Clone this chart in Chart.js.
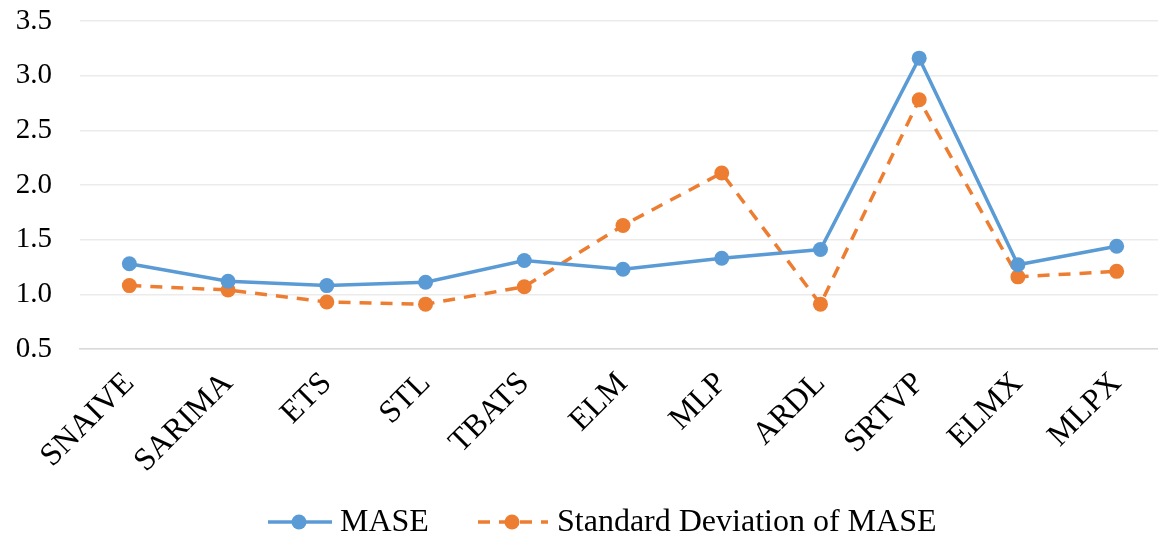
<!DOCTYPE html>
<html>
<head>
<meta charset="utf-8">
<script src="https://cdn.jsdelivr.net/npm/chart.js@4.4.1/dist/chart.umd.min.js"></script>
<style>
  html, body { margin: 0; padding: 0; background: #fff; }
  #wrap { width: 1158px; height: 546px; }
</style>
</head>
<body>
<div id="wrap"><canvas id="chart" width="1158" height="546"></canvas></div>
<script>
// Données
const models = ['SNAIVE', 'SARIMA', 'ETS', 'STL', 'TBATS', 'ELM', 'MLP', 'ARDL', 'SRTVP', 'ELMX', 'MLPX'];
const maseValues = [1.28, 1.12, 1.08, 1.11, 1.31, 1.23, 1.33, 1.41, 3.16, 1.27, 1.44];
const sdValues = [1.08, 1.04, 0.93, 0.91, 1.07, 1.63, 2.11, 0.91, 2.78, 1.16, 1.21];
const yTicks = [0.5, 1.0, 1.5, 2.0, 2.5, 3.0, 3.5];

const blue = '#5B9BD5';
const orange = '#ED7D31';
const fontFamily = '"Liberation Serif", "Times New Roman", serif';

// La zone du graphique déborde un peu à droite dans l'original
const stretchRight = {
  id: 'stretchRight',
  afterLayout(chart) {
    const extra = 8;
    const x = chart.scales.x;
    x.right += extra;
    x.width += extra;
    x.configure();
    chart.chartArea.right += extra;
    chart.chartArea.width += extra;
  }
};

// Légende dessinée à la main (ligne + point + texte)
const legendPlugin = {
  id: 'customLegend',
  afterDraw(chart) {
    const ctx = chart.ctx;
    const y = 522;
    const items = [
      { label: 'MASE', color: blue, dash: [], x0: 268, x1: 332, cx: 299, tx: 340 },
      { label: 'Standard Deviation of MASE', color: orange, dash: [12, 9], x0: 478, x1: 548, cx: 512, tx: 557 }
    ];
    ctx.save();
    items.forEach(it => {
      ctx.strokeStyle = it.color;
      ctx.lineWidth = 3.5;
      ctx.setLineDash(it.dash);
      ctx.beginPath();
      ctx.moveTo(it.x0, y);
      ctx.lineTo(it.x1, y);
      ctx.stroke();
      ctx.setLineDash([]);
      ctx.fillStyle = it.color;
      ctx.beginPath();
      ctx.arc(it.cx, y, 7.5, 0, Math.PI * 2);
      ctx.fill();
      ctx.fillStyle = '#000';
      ctx.font = '32px ' + fontFamily;
      ctx.textBaseline = 'middle';
      ctx.textAlign = 'left';
      ctx.fillText(it.label, it.tx, y + 1);
    });
    ctx.restore();
  }
};

const ctx = document.getElementById('chart').getContext('2d');
const chart = new Chart(ctx, {
  type: 'line',
  data: {
    labels: models,
    datasets: [
      {
        label: 'MASE',
        data: maseValues,
        borderColor: blue,
        backgroundColor: blue,
        borderWidth: 3.5,
        pointRadius: 7.5,
        pointHoverRadius: 7.5,
        pointBorderWidth: 0,
        tension: 0
      },
      {
        label: 'Standard Deviation of MASE',
        data: sdValues,
        borderColor: orange,
        backgroundColor: orange,
        borderWidth: 3.5,
        borderDash: [12, 9],
        pointRadius: 7.5,
        pointHoverRadius: 7.5,
        pointBorderWidth: 0,
        tension: 0
      }
    ]
  },
  options: {
    responsive: false,
    animation: false,
    layout: { autoPadding: false, padding: { top: 21, right: 0, left: 0, bottom: 67 } },
    plugins: {
      legend: { display: false },
      tooltip: { enabled: false }
    },
    scales: {
      x: {
        offset: true,
        grid: { display: false, drawTicks: false },
        border: { display: true, color: '#d9d9d9', width: 1.5 },
        ticks: {
          color: '#000',
          font: { family: fontFamily, size: 32 },
          minRotation: 45,
          maxRotation: 45,
          padding: 16
        },
        afterFit(scale) {
          scale.height = 130;
          scale.paddingLeft = 0;
          scale.paddingRight = 0;
        }
      },
      y: {
        min: 0.5,
        max: 3.5,
        afterBuildTicks(scale) { scale.ticks = yTicks.map(v => ({ value: v })); },
        grid: { color: '#ebebeb', lineWidth: 1.5, drawTicks: false },
        border: { display: false },
        ticks: {
          color: '#000',
          font: { family: fontFamily, size: 29 },
          padding: 28,
          callback: v => v.toFixed(1)
        },
        afterFit(scale) {
          scale.width = 80;
          scale.paddingTop = 0;
          scale.paddingBottom = 0;
        }
      }
    }
  },
  plugins: [stretchRight, legendPlugin]
});
</script>
</body>
</html>
